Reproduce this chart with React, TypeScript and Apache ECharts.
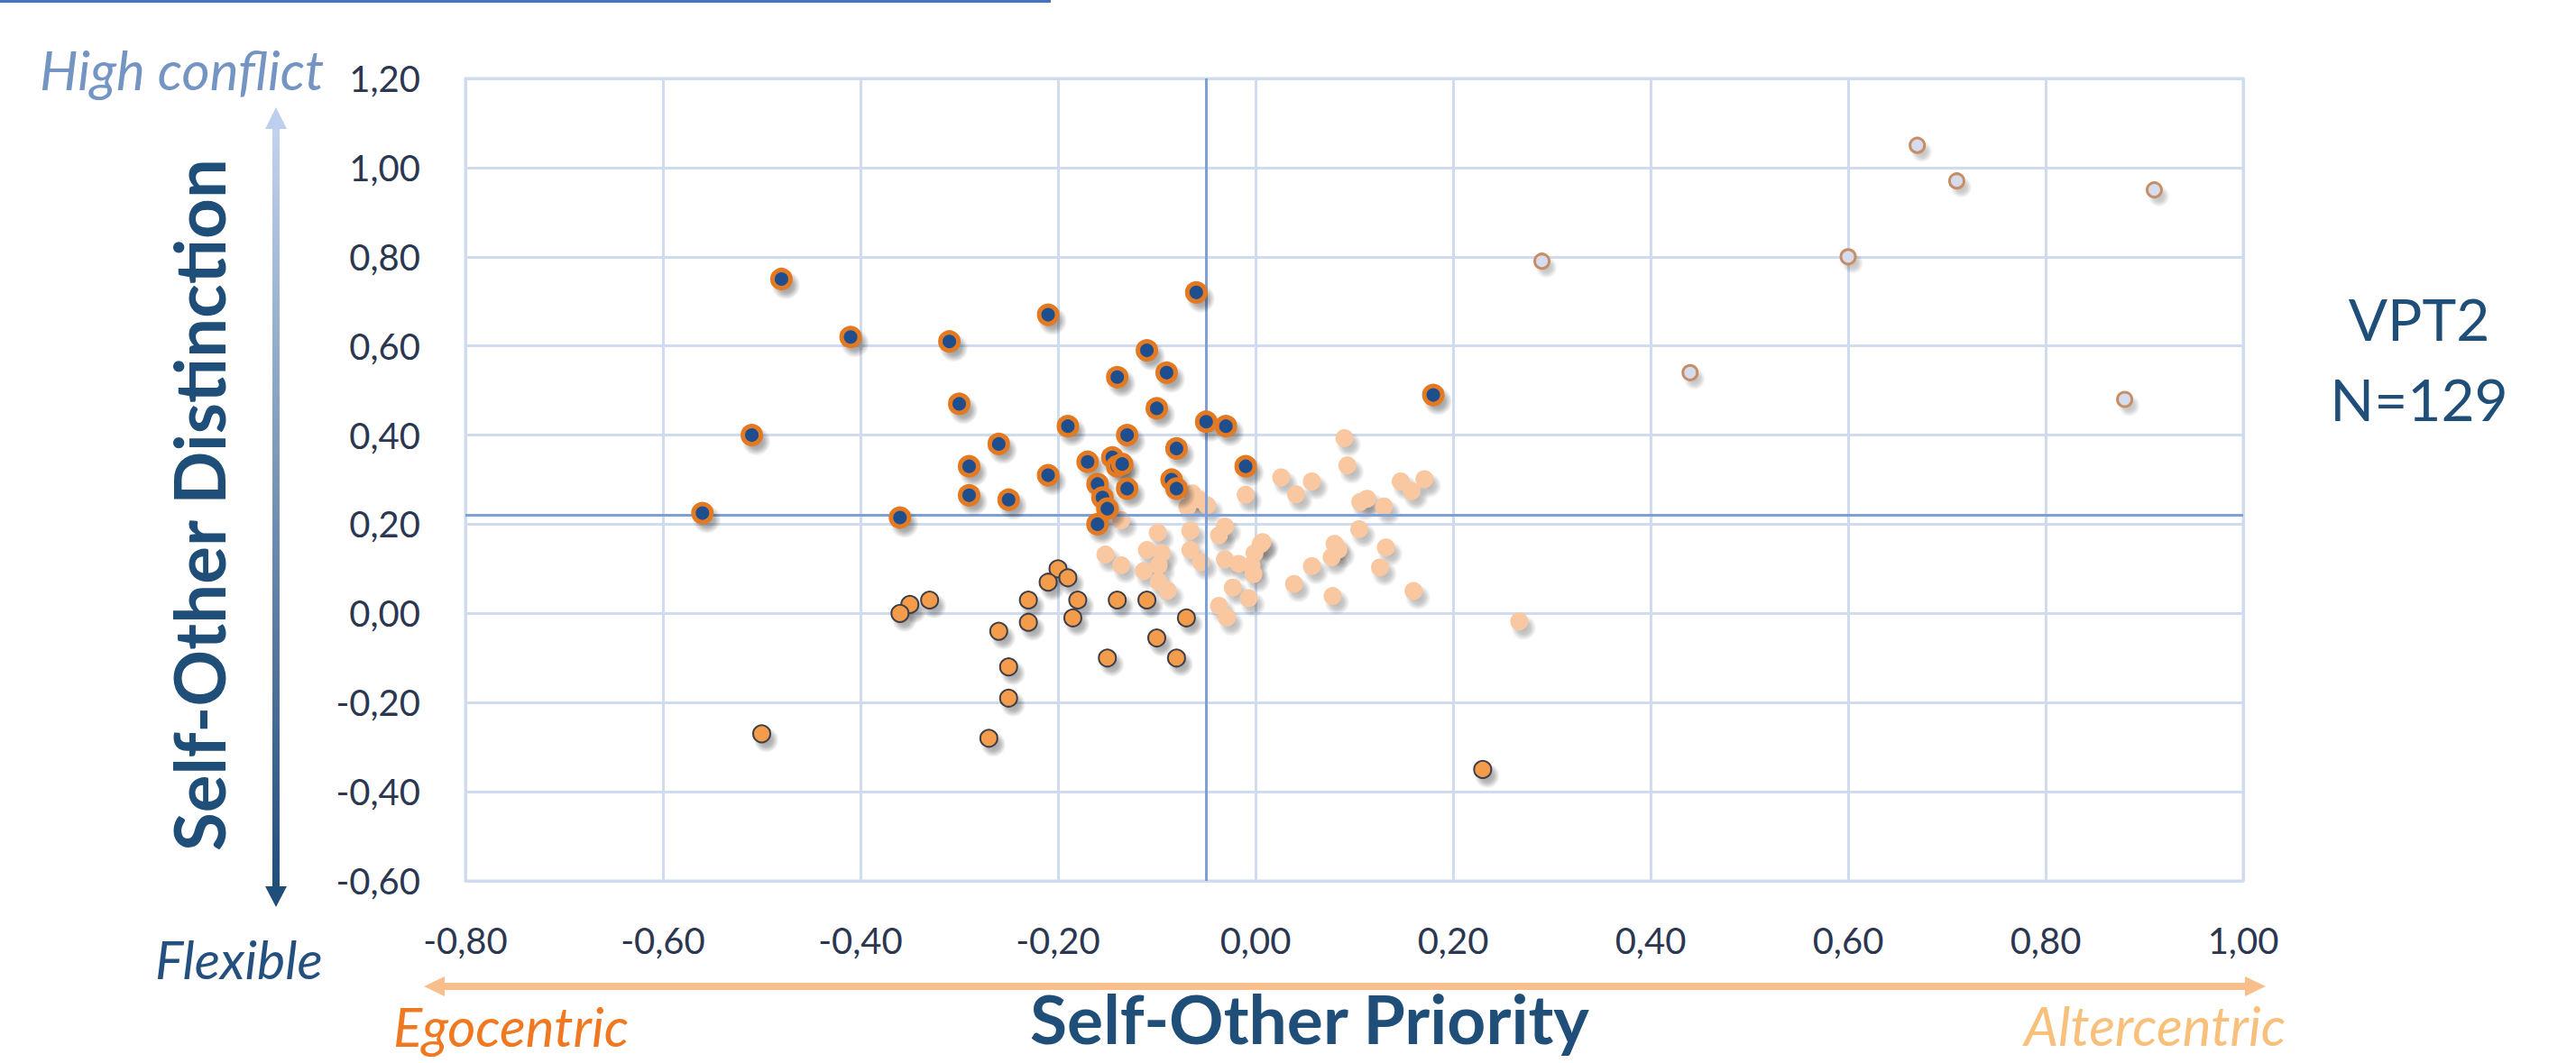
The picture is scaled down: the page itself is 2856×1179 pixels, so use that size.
import React, { useEffect, useRef } from "react";
import * as echarts from "echarts";

// ---- Data (Self-Other Priority, Self-Other Distinction) ----
const egoHighConflict: [number, number][] = [
  [-0.48, 0.75], [-0.41, 0.62], [-0.31, 0.61], [-0.21, 0.67], [-0.06, 0.72],
  [-0.11, 0.59], [-0.14, 0.53], [-0.09, 0.54], [-0.30, 0.47], [-0.10, 0.46],
  [-0.51, 0.40], [-0.19, 0.42], [-0.13, 0.40], [-0.05, 0.43], [-0.03, 0.42],
  [-0.26, 0.38], [-0.08, 0.37], [-0.29, 0.33], [-0.21, 0.31], [-0.17, 0.34],
  [-0.145, 0.35], [-0.14, 0.33], [-0.135, 0.335], [-0.01, 0.33], [-0.29, 0.265],
  [-0.25, 0.255], [-0.16, 0.29], [-0.13, 0.28], [-0.155, 0.26], [-0.15, 0.235],
  [-0.16, 0.20], [-0.085, 0.30], [-0.08, 0.28], [-0.56, 0.225], [-0.36, 0.215],
  [0.18, 0.49],
];

const egoFlexible: [number, number][] = [
  [-0.20, 0.10], [-0.21, 0.07], [-0.19, 0.08], [-0.23, 0.03], [-0.18, 0.03],
  [-0.14, 0.03], [-0.11, 0.03], [-0.23, -0.02], [-0.185, -0.01], [-0.07, -0.01],
  [-0.26, -0.04], [-0.10, -0.055], [-0.25, -0.12], [-0.15, -0.10], [-0.08, -0.10],
  [-0.25, -0.19], [-0.35, 0.02], [-0.36, 0.00], [-0.33, 0.03], [-0.27, -0.28],
  [-0.50, -0.27], [0.23, -0.35],
];

const centerGroup: [number, number][] = [
  [-0.136, 0.209], [-0.099, 0.181], [-0.064, 0.269], [-0.058, 0.256], [-0.069, 0.239],
  [-0.049, 0.242], [-0.010, 0.266], [-0.066, 0.185], [-0.031, 0.195], [-0.037, 0.175],
  [0.005, 0.155], [-0.152, 0.132], [-0.136, 0.108], [-0.110, 0.142], [-0.095, 0.135],
  [-0.098, 0.108], [-0.113, 0.095], [-0.066, 0.142], [-0.055, 0.115], [-0.031, 0.121],
  [-0.017, 0.111], [-0.004, 0.108], [-0.001, 0.135], [-0.002, 0.088], [-0.098, 0.071],
  [-0.089, 0.051], [-0.023, 0.058], [-0.007, 0.034], [-0.037, 0.017], [-0.029, -0.009],
  [0.090, 0.393], [0.093, 0.332], [0.026, 0.305], [0.057, 0.296], [0.041, 0.267],
  [0.147, 0.296], [0.171, 0.301], [0.158, 0.274], [0.106, 0.250], [0.113, 0.257],
  [0.130, 0.240], [0.105, 0.189], [0.007, 0.160], [0.080, 0.156], [0.084, 0.143],
  [0.077, 0.126], [0.132, 0.148], [0.057, 0.106], [0.126, 0.103], [0.039, 0.066],
  [0.078, 0.039], [0.160, 0.050], [0.267, -0.018],
];

const alterHighConflict: [number, number][] = [
  [0.67, 1.05], [0.71, 0.97], [0.91, 0.95], [0.29, 0.79], [0.60, 0.80],
  [0.44, 0.54], [0.88, 0.48],
];

const X_MIN = -0.8;
const X_MAX = 1.0;
const Y_MIN = -0.6;
const Y_MAX = 1.2;
const STEP = 0.2;
const MEAN_X = -0.05;
const MEAN_Y = 0.217;

const fmt = (v: number) => v.toFixed(2).replace(".", ",");

const shadowFill = (a: number) =>
  new echarts.graphic.RadialGradient(0.5, 0.5, 0.5, [
    { offset: 0, color: `rgba(40,40,40,${a})` },
    { offset: 0.55, color: `rgba(40,40,40,${a * 0.7})` },
    { offset: 1, color: "rgba(40,40,40,0)" },
  ]);

const shadowSeries = (data: [number, number][], size: number, z: number, a: number) => ({
  type: "scatter",
  data,
  z,
  silent: true,
  symbolSize: size,
  symbolOffset: [5, 7],
  itemStyle: { color: shadowFill(a), opacity: 1 },
});

export default function App() {
  const ref = useRef<HTMLDivElement>(null);

  useEffect(() => {
    if (!ref.current) return;
    const chart = echarts.init(ref.current, null, { renderer: "svg" });
    const FONT = "Lato, 'Open Sans', sans-serif";
    const option: any = {
      animation: false,
      backgroundColor: "#ffffff",
      grid: {
        left: 516,
        right: 369,
        top: 87,
        bottom: 202,
        show: true,
        borderColor: "#CFDBEE",
        borderWidth: 3,
      },
      xAxis: {
        type: "value",
        min: X_MIN,
        max: X_MAX,
        interval: STEP,
        axisLine: { show: false },
        axisTick: { show: false },
        splitLine: { show: true, lineStyle: { color: "#CFDBEE", width: 3 } },
        axisLabel: {
          formatter: fmt,
          fontFamily: FONT,
          fontSize: 40,
          color: "#2B3650",
          margin: 46,
        },
      },
      yAxis: {
        type: "value",
        min: Y_MIN,
        max: Y_MAX,
        interval: STEP,
        axisLine: { show: false },
        axisTick: { show: false },
        splitLine: { show: true, lineStyle: { color: "#CFDBEE", width: 3 } },
        axisLabel: {
          formatter: fmt,
          fontFamily: FONT,
          fontSize: 40,
          color: "#2B3650",
          margin: 50,
        },
      },
      series: [
        {
          type: "scatter",
          data: [],
          z: 1,
          silent: true,
          markLine: {
            silent: true,
            symbol: "none",
            label: { show: false },
            lineStyle: { color: "#7DA0D8", width: 3, type: "solid" },
            data: [{ xAxis: MEAN_X }, { yAxis: MEAN_Y }],
          },
        },
        shadowSeries(centerGroup, 28, 2, 0.35),
        {
          name: "center",
          type: "scatter",
          z: 3,
          data: centerGroup,
          symbolSize: 20,
          itemStyle: { color: "#F9C7A0", opacity: 1 },
        },
        shadowSeries(egoFlexible, 28, 4, 0.45),
        {
          name: "egoFlexible",
          type: "scatter",
          z: 5,
          data: egoFlexible,
          symbolSize: 19,
          itemStyle: {
            color: "#F39C4C",
            borderColor: "#3E3E48",
            borderWidth: 2,
            opacity: 1,
          },
        },
        shadowSeries(egoHighConflict, 32, 6, 0.5),
        {
          name: "egoHighConflict",
          type: "scatter",
          z: 7,
          data: egoHighConflict,
          symbolSize: 20,
          itemStyle: {
            color: "#1F4E8E",
            borderColor: "#E37A22",
            borderWidth: 5,
            opacity: 1,
          },
        },
        shadowSeries(alterHighConflict, 24, 8, 0.3),
        {
          name: "alterHighConflict",
          type: "scatter",
          z: 9,
          data: alterHighConflict,
          symbolSize: 16,
          itemStyle: {
            color: "#D5DCEE",
            borderColor: "#C78E66",
            borderWidth: 3,
            opacity: 1,
          },
        },
      ],
      graphic: [
        {
          type: "line",
          shape: { x1: 0, y1: 1.5, x2: 1165, y2: 1.5 },
          style: { stroke: "#4472C4", lineWidth: 3 },
        },
        // vertical arrow
        {
          type: "rect",
          shape: { x: 302, y: 138, width: 8, height: 850 },
          style: {
            fill: new echarts.graphic.LinearGradient(0, 0, 0, 1, [
              { offset: 0, color: "#C2D3EF" },
              { offset: 1, color: "#1F4E79" },
            ]),
          },
        },
        {
          type: "polygon",
          shape: { points: [[306, 119], [294, 143], [318, 143]] },
          style: { fill: "#BDCFEE" },
        },
        {
          type: "polygon",
          shape: { points: [[306, 1006], [294, 983], [318, 983]] },
          style: { fill: "#1F4E79" },
        },
        // horizontal arrow
        {
          type: "rect",
          shape: { x: 490, y: 1090, width: 2002, height: 8 },
          style: { fill: "#F8BE8C" },
        },
        {
          type: "polygon",
          shape: { points: [[470, 1094], [493, 1083], [493, 1105]] },
          style: { fill: "#F8BE8C" },
        },
        {
          type: "polygon",
          shape: { points: [[2512, 1094], [2489, 1083], [2489, 1105]] },
          style: { fill: "#F8BE8C" },
        },
        // texts
        {
          type: "text",
          x: 44,
          y: 77,
          style: {
            text: "High conflict",
            fontFamily: FONT,
            fontStyle: "italic",
            fontSize: 60,
            fill: "#7494C4",
            align: "left",
            verticalAlign: "middle",
          },
        },
        {
          type: "text",
          x: 172,
          y: 1063,
          style: {
            text: "Flexible",
            fontFamily: FONT,
            fontStyle: "italic",
            fontSize: 59,
            fill: "#24507F",
            align: "left",
            verticalAlign: "middle",
          },
        },
        {
          type: "text",
          x: 436,
          y: 1138,
          style: {
            text: "Egocentric",
            fontFamily: FONT,
            fontStyle: "italic",
            fontSize: 60,
            fill: "#F07820",
            align: "left",
            verticalAlign: "middle",
          },
        },
        {
          type: "text",
          x: 2534,
          y: 1137,
          style: {
            text: "Altercentric",
            fontFamily: FONT,
            fontStyle: "italic",
            fontSize: 60,
            fill: "#F8C07A",
            align: "right",
            verticalAlign: "middle",
          },
        },
        {
          type: "text",
          x: 1452,
          y: 1129,
          style: {
            text: "Self-Other Priority",
            fontFamily: FONT,
            fontWeight: "bold",
            fontSize: 75,
            fill: "#1F4E79",
            align: "center",
            verticalAlign: "middle",
          },
        },
        {
          type: "text",
          x: 220,
          y: 560,
          rotation: Math.PI / 2,
          style: {
            text: "Self-Other Distinction",
            fontFamily: FONT,
            fontWeight: "bold",
            fontSize: 78,
            fill: "#1F4E79",
            align: "center",
            verticalAlign: "middle",
          },
        },
        {
          type: "text",
          x: 2682,
          y: 353,
          style: {
            text: "VPT2",
            fontFamily: FONT,
            fontSize: 64,
            fill: "#1F4E79",
            align: "center",
            verticalAlign: "middle",
          },
        },
        {
          type: "text",
          x: 2682,
          y: 442,
          style: {
            text: "N=129",
            fontFamily: FONT,
            fontSize: 64,
            fill: "#1F4E79",
            align: "center",
            verticalAlign: "middle",
          },
        },
      ],
    };
    chart.setOption(option);
    return () => chart.dispose();
  }, []);

  return (
    <div
      ref={ref}
      style={{ position: "absolute", left: 0, top: 0, width: 2856, height: 1179 }}
    />
  );
}
